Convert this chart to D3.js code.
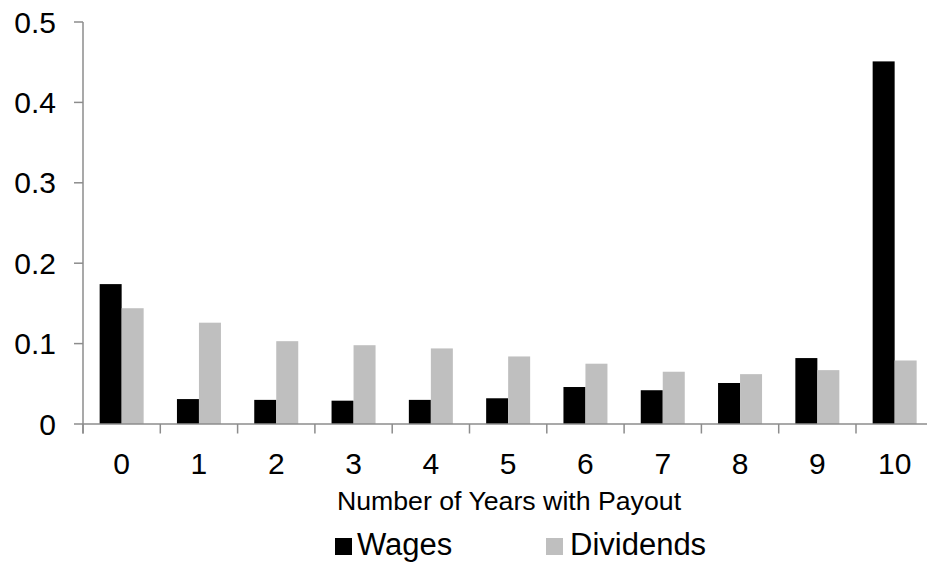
<!DOCTYPE html>
<html>
<head>
<meta charset="utf-8">
<script src="https://cdn.jsdelivr.net/npm/d3@7"></script>
<style>
  html, body { margin: 0; padding: 0; background: #fff; }
  svg { display: block; font-family: "Liberation Sans", Arial, sans-serif; }
</style>
</head>
<body>
<svg id="chart" width="927" height="564"></svg>
<script>
const categories = ["0","1","2","3","4","5","6","7","8","9","10"];
const wages     = [0.174, 0.031, 0.030, 0.029, 0.030, 0.032, 0.046, 0.042, 0.051, 0.082, 0.451];
const dividends = [0.144, 0.126, 0.103, 0.098, 0.094, 0.084, 0.075, 0.065, 0.062, 0.067, 0.079];
const yTicks = [0, 0.1, 0.2, 0.3, 0.4, 0.5];
const seriesNames = ["Wages", "Dividends"];
const seriesColors = ["#000000", "#bfbfbf"];
const xTitle = "Number of Years with Payout";

(function () {
const svg = d3.select("#chart");
const pLeft = 83, pRight = 933.3, pTop = 22, pBottom = 424;
const axisColor = "#8c8c8c";

const x = d3.scaleBand().domain(categories).range([pLeft, pRight]).padding(0);
const y = d3.scaleLinear().domain([0, 0.5]).range([pBottom, pTop]);
const barW = x.bandwidth() * 0.2846;

// bars
const series = [wages, dividends];
series.forEach((vals, si) => {
  svg.append("g").selectAll("rect").data(categories).join("rect")
    .attr("x", d => x(d) + x.bandwidth() / 2 - barW + si * barW)
    .attr("y", (d, i) => y(vals[i]))
    .attr("width", barW)
    .attr("height", (d, i) => pBottom - y(vals[i]))
    .attr("fill", seriesColors[si]);
});

// y axis
const yAxis = svg.append("g");
yAxis.append("line").attr("x1", pLeft).attr("x2", pLeft).attr("y1", pTop).attr("y2", pBottom + 9.5)
  .attr("stroke", axisColor).attr("stroke-width", 1.5);
yAxis.selectAll("line.tick").data(yTicks).join("line").attr("class", "tick")
  .attr("x1", pLeft - 9).attr("x2", pLeft).attr("y1", d => y(d)).attr("y2", d => y(d))
  .attr("stroke", axisColor).attr("stroke-width", 1.5);
yAxis.selectAll("text").data(yTicks).join("text")
  .attr("x", 56).attr("y", d => y(d) + 10.5)
  .attr("text-anchor", "end").attr("font-size", 30).attr("fill", "#000")
  .text(d => d === 0 ? "0" : d3.format(".1f")(d));

// x axis
const xAxis = svg.append("g");
xAxis.append("line").attr("x1", pLeft).attr("x2", pRight).attr("y1", pBottom).attr("y2", pBottom)
  .attr("stroke", axisColor).attr("stroke-width", 1.5);
const boundaries = categories.map(c => x(c)).concat([pRight]);
xAxis.selectAll("line.tick").data(boundaries).join("line").attr("class", "tick")
  .attr("x1", d => d).attr("x2", d => d).attr("y1", pBottom).attr("y2", pBottom + 9.5)
  .attr("stroke", axisColor).attr("stroke-width", 1.5);
xAxis.selectAll("text").data(categories).join("text")
  .attr("x", d => x(d) + x.bandwidth() / 2).attr("y", 473.5)
  .attr("text-anchor", "middle").attr("font-size", 30).attr("fill", "#000")
  .text(d => d);

// x title
svg.append("text").attr("x", 509).attr("y", 510)
  .attr("text-anchor", "middle").attr("font-size", 26.7).attr("fill", "#000")
  .text(xTitle);

// legend
const legendX = [335, 546];
const legendTextX = [357, 570];
const leg = svg.append("g");
seriesNames.forEach((name, i) => {
  leg.append("rect").attr("x", legendX[i]).attr("y", 538).attr("width", 17).attr("height", 17)
    .attr("fill", seriesColors[i]);
  leg.append("text").attr("x", legendTextX[i]).attr("y", 555)
    .attr("font-size", 31).attr("fill", "#000").text(name);
});
})();
</script>
</body>
</html>
